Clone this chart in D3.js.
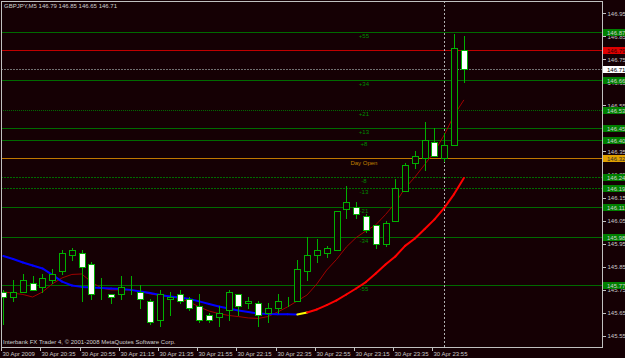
<!DOCTYPE html>
<html>
<head>
<meta charset="utf-8">
<script src="https://cdn.jsdelivr.net/npm/d3@7"></script>
<style>
body { margin: 0; background: #150004; }
svg { display: block; font-family: "Liberation Sans", Arial, sans-serif; }
</style>
</head>
<body>
<div id="chart"></div>
<script>
var width = 625,
    height = 358,
    bg = "#150004",
    plot = {left: 1, top: 1, right: 602, bottom: 347};

// GBPJPY M5 bars, 30 Apr 20:15 .. 01 May 00:10
var opens = [145.74, 145.72, 145.74, 145.78, 145.76, 145.79, 145.83, 145.90, 145.91, 145.86,
             145.74, 145.73, 145.73, 145.75, 145.74, 145.70, 145.62, 145.71, 145.73, 145.71,
             145.68, 145.64, 145.63, 145.66, 145.73, 145.69, 145.69, 145.65, 145.67, 145.71,
             145.70, 145.83, 145.90, 145.91, 145.92, 146.10, 146.11, 146.07, 146.03, 145.95,
             146.05, 146.18, 146.30, 146.32, 146.39, 146.32, 146.38, 146.79];
var highs = [145.75, 145.79, 145.82, 145.81, 145.82, 145.84, 145.92, 145.93, 145.92, 145.87,
             145.80, 145.73, 145.81, 145.81, 145.77, 145.71, 145.75, 145.74, 145.75, 145.72,
             145.73, 145.65, 145.68, 145.75, 145.73, 145.72, 145.70, 145.69, 145.73, 145.72,
             145.88, 145.98, 145.97, 145.94, 146.09, 146.20, 146.13, 146.08, 146.03, 146.05,
             146.23, 146.30, 146.35, 146.48, 146.45, 146.43, 146.86, 146.85];
var lows = [145.60, 145.70, 145.74, 145.75, 145.74, 145.78, 145.82, 145.88, 145.70, 145.71,
            145.71, 145.69, 145.71, 145.73, 145.67, 145.60, 145.59, 145.64, 145.69, 145.66,
            145.61, 145.61, 145.59, 145.62, 145.64, 145.67, 145.59, 145.61, 145.65, 145.68,
            145.70, 145.79, 145.87, 145.89, 145.92, 146.06, 146.06, 146.00, 145.93, 145.94,
            146.05, 146.18, 146.28, 146.27, 146.33, 146.31, 146.38, 146.65];
var closes = [145.72, 145.74, 145.79, 145.75, 145.80, 145.82, 145.91, 145.92, 145.85, 145.73,
              145.74, 145.72, 145.76, 145.75, 145.71, 145.61, 145.73, 145.72, 145.70, 145.67,
              145.62, 145.62, 145.65, 145.74, 145.68, 145.70, 145.64, 145.67, 145.70, 145.71,
              145.84, 145.90, 145.92, 145.93, 146.09, 146.13, 146.08, 146.01, 145.95, 146.04,
              146.19, 146.29, 146.33, 146.40, 146.33, 146.38, 146.80, 146.71];

// slow colour-by-slope average and fast average
var maSlow = [145.896, 145.883, 145.868, 145.855, 145.842, 145.814, 145.785, 145.768, 145.762, 145.759,
              145.757, 145.755, 145.753, 145.749, 145.742, 145.735, 145.727, 145.720, 145.716, 145.709,
              145.699, 145.688, 145.677, 145.668, 145.659, 145.653, 145.646, 145.644, 145.643, 145.643,
              145.642, 145.651, 145.664, 145.683, 145.703, 145.729, 145.755, 145.783, 145.820, 145.859,
              145.894, 145.940, 145.972, 146.013, 146.055, 146.105, 146.165, 146.235];
var maFast = [145.740, 145.735, 145.729, 145.718, 145.740, 145.775, 145.801, 145.816, 145.818, 145.783,
              145.757, 145.749, 145.749, 145.749, 145.742, 145.731, 145.725, 145.720, 145.712, 145.696,
              145.675, 145.657, 145.646, 145.638, 145.633, 145.627, 145.625, 145.633, 145.653, 145.675,
              145.701, 145.727, 145.775, 145.835, 145.881, 145.935, 145.976, 146.005, 146.031, 146.076,
              146.126, 146.191, 146.239, 146.293, 146.350, 146.422, 146.508, 146.574];

var dayOpen = 146.32;
var levelNames = ["+55", "+34", "+21", "+13", "+8", "-8", "-13", "-21", "-34", "-55"];
var levelPrices = [146.87, 146.66, 146.53, 146.45, 146.40, 146.24, 146.19, 146.11, 145.98, 145.77];
var askPrice = 146.79, bidPrice = 146.71;
var separatorBar = 45;

var priceTicks = [145.55, 145.65, 145.75, 145.85, 145.95, 146.05, 146.15, 146.25,
                  146.35, 146.45, 146.55, 146.65, 146.75, 146.85, 146.95];
var timeLabels = ["30 Apr 2009", "30 Apr 20:35", "30 Apr 20:55", "30 Apr 21:15", "30 Apr 21:35",
                  "30 Apr 21:55", "30 Apr 22:15", "30 Apr 22:35", "30 Apr 22:55", "30 Apr 23:15",
                  "30 Apr 23:35", "30 Apr 23:55"];
var title = "GBPJPY,M5  146.79 146.85 146.65 146.71";
var copyright = "Interbank FX Trader 4, \u00a9 2001-2008 MetaQuotes Software Corp.";

var bars = opens.map((o, i) => ({i: i, o: o, h: highs[i], l: lows[i], c: closes[i]}));

var x = d3.scaleLinear().domain([0, bars.length - 1]).range([3.3, 463.9]);
var y = d3.scaleLinear().domain([145.55, 146.95]).range([335.7, 13.3]);
var px = v => Math.round(v) + 0.5;

var svg = d3.select("#chart").append("svg")
    .attr("width", width)
    .attr("height", height)
    .style("font-size", "6px");

svg.append("rect").attr("width", width).attr("height", height).attr("fill", bg);

svg.append("clipPath").attr("id", "plotclip")
    .append("rect")
    .attr("x", plot.left).attr("y", plot.top)
    .attr("width", plot.right - plot.left).attr("height", plot.bottom - plot.top);

let g = svg.append("g").attr("clip-path", "url(#plotclip)").attr("shape-rendering", "crispEdges");

// level lines
let dashFor = {"+21": "1,1", "-8": "2,1", "-13": "2,1"};
levelPrices.forEach((p, k) => {
    g.append("line")
        .attr("x1", plot.left).attr("x2", plot.right)
        .attr("y1", px(y(p))).attr("y2", px(y(p)))
        .attr("stroke", "#006a00")
        .attr("stroke-dasharray", dashFor[levelNames[k]] || null);
});
g.append("line")
    .attr("x1", plot.left).attr("x2", plot.right)
    .attr("y1", px(y(dayOpen))).attr("y2", px(y(dayOpen)))
    .attr("stroke", "#c07800");
g.append("line")
    .attr("x1", plot.left).attr("x2", plot.right)
    .attr("y1", px(y(askPrice))).attr("y2", px(y(askPrice)))
    .attr("stroke", "#c00000");
g.append("line")
    .attr("x1", plot.left).attr("x2", plot.right)
    .attr("y1", px(y(bidPrice))).attr("y2", px(y(bidPrice)))
    .attr("stroke", "#707070")
    .attr("stroke-dasharray", "2,1");

// day separator
g.append("line")
    .attr("x1", px(x(separatorBar))).attr("x2", px(x(separatorBar)))
    .attr("y1", plot.top).attr("y2", plot.bottom)
    .attr("stroke", "#b0b0b0")
    .attr("stroke-dasharray", "2,2");

// level captions
let labelBar = 36.8;
levelPrices.forEach((p, k) => {
    g.append("text")
        .attr("x", x(labelBar)).attr("y", y(p) + 6)
        .attr("text-anchor", "middle")
        .attr("fill", "#008a00")
        .text(levelNames[k]);
});
g.append("text")
    .attr("x", x(labelBar)).attr("y", y(dayOpen) + 6.5)
    .attr("text-anchor", "middle")
    .attr("fill", "#c08000")
    .text("Day Open");

// moving averages
let lineGen = d3.line().x(d => x(d.i)).y(d => y(d.v));
g.append("path")
    .datum(maFast.map((v, i) => ({i: i, v: v})))
    .attr("d", lineGen)
    .attr("fill", "none")
    .attr("stroke", "#a00000")
    .attr("stroke-width", 1)
    .attr("shape-rendering", "auto");

let prevDir = 0;
for (var i = 1; i < maSlow.length; i++) {
    let dir = maSlow[i] > maSlow[i - 1] ? 1 : -1;
    let col = dir < 0 ? "#0000ff" : "#ff0000";
    if (prevDir !== 0 && dir !== prevDir) {
        col = "#ffff00";
    }
    prevDir = dir;
    g.append("line")
        .attr("x1", x(i - 1)).attr("y1", y(maSlow[i - 1]))
        .attr("x2", x(i)).attr("y2", y(maSlow[i]))
        .attr("stroke", col)
        .attr("stroke-width", 2)
        .attr("stroke-linecap", "round")
        .attr("shape-rendering", "auto");
}

// candles
let candleGreen = "#00b000";
let cg = g.append("g");
cg.selectAll("line.wick")
    .data(bars)
    .join("line")
    .attr("class", "wick")
    .attr("x1", d => px(x(d.i))).attr("x2", d => px(x(d.i)))
    .attr("y1", d => Math.round(y(d.h))).attr("y2", d => Math.round(y(d.l)) + 1)
    .attr("stroke", candleGreen);

cg.selectAll("rect.body")
    .data(bars)
    .join("rect")
    .attr("class", "body")
    .attr("x", d => Math.round(x(d.i)) - 2.5)
    .attr("y", d => px(y(Math.max(d.o, d.c))))
    .attr("width", 6)
    .attr("height", d => Math.max(0, Math.round(y(Math.min(d.o, d.c))) - Math.round(y(Math.max(d.o, d.c)))))
    .attr("fill", d => d.c < d.o ? "#ffffff" : bg)
    .attr("stroke", candleGreen);

// frame
svg.append("rect")
    .attr("x", plot.left + 0.5).attr("y", plot.top + 0.5)
    .attr("width", plot.right - plot.left).attr("height", plot.bottom - plot.top)
    .attr("fill", "none")
    .attr("stroke", "#c0c0c0")
    .attr("shape-rendering", "crispEdges");

// price axis
let yAxis = svg.append("g")
    .attr("transform", `translate(${plot.right + 0.5}, 0)`)
    .call(d3.axisRight(y).tickValues(priceTicks).tickFormat(d3.format(".2f")).tickSize(3).tickPadding(2));
yAxis.select(".domain").remove();
yAxis.selectAll("line").attr("stroke", "#c0c0c0").attr("shape-rendering", "crispEdges");
yAxis.selectAll("text").attr("fill", "#c8c8c8").style("font-size", "6px").style("font-family", "Liberation Sans, Arial, sans-serif");

// price tags at the right edge
let tags = levelPrices.map(p => ({p: p, fill: "#008000", color: "#d0d0d0"}));
tags.push({p: dayOpen, fill: "#e0a000", color: "#303030"});
tags.push({p: askPrice, fill: "#e00000", color: "#300000"});
tags.push({p: bidPrice, fill: "#ffffff", color: "#000000"});
let tg = svg.append("g");
tags.forEach(t => {
    let cy = Math.round(y(t.p));
    tg.append("rect")
        .attr("x", plot.right + 1).attr("y", cy - 3)
        .attr("width", width - plot.right - 1).attr("height", 7)
        .attr("fill", t.fill)
        .attr("shape-rendering", "crispEdges");
    tg.append("text")
        .attr("x", plot.right + 5).attr("y", cy + 2.5)
        .attr("fill", t.color)
        .text(d3.format(".2f")(t.p));
});

// time axis
let xAxis = svg.append("g")
    .attr("transform", `translate(0, ${plot.bottom + 0.5})`)
    .call(d3.axisBottom(x).tickValues(timeLabels.map((t, k) => k * 4))
        .tickFormat((d, k) => timeLabels[k]).tickSize(3).tickPadding(1));
xAxis.select(".domain").remove();
xAxis.selectAll(".tick").attr("transform", d => `translate(${Math.round(x(d)) - 1.5}, 0)`);
xAxis.selectAll("line").attr("stroke", "#c0c0c0").attr("shape-rendering", "crispEdges");
xAxis.selectAll("text")
    .attr("text-anchor", "start")
    .attr("x", 1)
    .attr("fill", "#c8c8c8")
    .style("font-size", "6px")
    .style("font-family", "Liberation Sans, Arial, sans-serif");

// texts
svg.append("text").attr("x", 4).attr("y", 8).attr("fill", "#d0d0d0").text(title);
svg.append("text").attr("x", 3).attr("y", 344).attr("fill", "#d0d0d0").text(copyright);
</script>
</body>
</html>
